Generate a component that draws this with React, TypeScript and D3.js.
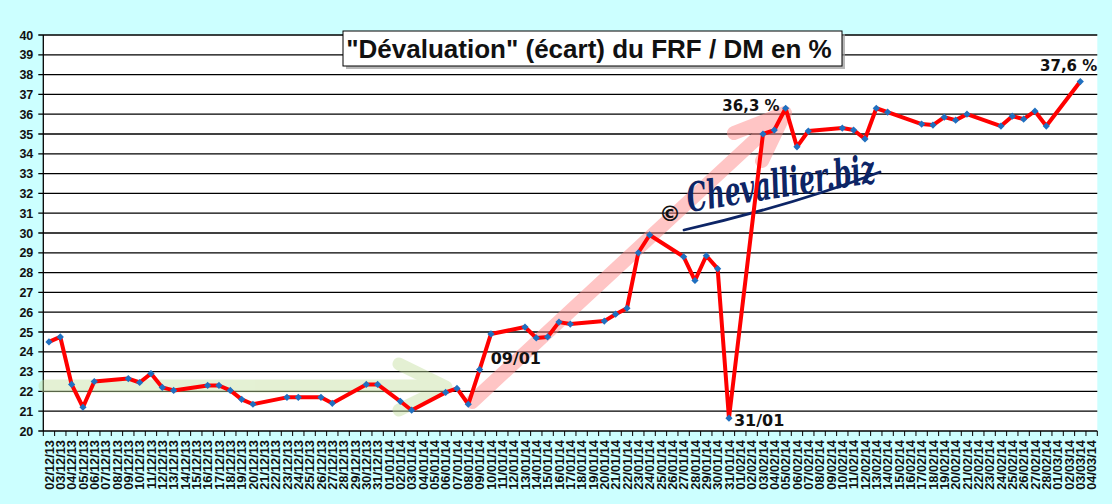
import { useEffect, useRef } from 'react';
import * as d3 from 'd3';

// daily categories from 02/12/13 to 04/03/14
const startDay = new Date(2013, 11, 2);
const endDay = new Date(2014, 2, 5);
const fmtDay = d3.timeFormat('%d/%m/%y');
const categories: string[] = d3.timeDay.range(startDay, endDay).map(d => fmtDay(d));

// écart FRF / DM en %, null = pas de cotation (week-end, jour férié)
const decValues: (number | null)[] = [
    24.5, 24.75, 22.35, 21.2, 22.5, null, null, 22.65, 22.45, 22.9,
    22.2, 22.05, null, null, 22.3, 22.3, 22.05, 21.6, 21.35, null,
    null, 21.7, 21.7, null, 21.7, 21.4, null, null, 22.35, 22.35,
];
const janValues: (number | null)[] = [
    null, 21.5, 21.05, null, null, 21.95, 22.15, 21.35, 23.1, 24.9,
    null, null, 25.25, 24.7, 24.75, 25.5, 25.4, null, null, 25.55,
    25.9, 26.2, 29.0, 29.9, null, null, 28.8, 27.6, 28.85, 28.2,
    20.65,
];
const febValues: (number | null)[] = [
    null, null, 35.0, 35.2, 36.3, 34.35, 35.15, null, null, 35.3,
    35.2, 34.75, 36.3, 36.1, null, null, 35.5, 35.45, 35.85, 35.7,
    36.0, null, null, 35.4, 35.9, 35.75, 36.15, 35.4,
];
const marValues: (number | null)[] = [null, null, 37.65, null];
const values = [...decValues, ...janValues, ...febValues, ...marValues];

const yTicks = d3.range(20, 41, 1);

const annotations = [
    { date: '09/01/14', text: '09/01', dx: 11, dy: -6, anchor: 'start' },
    { date: '31/01/14', text: '31/01', dx: 5, dy: 8, anchor: 'start' },
    { date: '05/02/14', text: '36,3 %', dx: -6, dy: 3, anchor: 'end' },
    { date: '03/03/14', text: '37,6 %', dx: 17, dy: -11, anchor: 'end' },
];

const title = '"Dévaluation" (écart) du FRF / DM en %';

export default function App() {
    const svgRef = useRef<SVGSVGElement>(null);
    const width = 1112;
    const height = 504;
    const left = 43.3, right = 1097.3, top = 35, bottom = 431;

    useEffect(() => {
        if (!svgRef.current) return;
        const svg = d3.select(svgRef.current);
        svg.selectAll('*').remove();

        const x = d3.scaleBand<string>().domain(categories).range([left, right]);
        const y = d3.scaleLinear().domain([20, 40]).range([bottom, top]);
        const cx = (d: string) => (x(d) as number) + x.bandwidth() / 2;

        svg.append('rect').attr('width', width).attr('height', height).attr('fill', '#ccffff');
        svg.append('rect')
            .attr('x', left).attr('y', top)
            .attr('width', right - left).attr('height', bottom - top)
            .attr('fill', '#ffffff');

        // grid
        svg.append('g').selectAll('line')
            .data(yTicks)
            .enter().append('line')
            .attr('x1', left - 5).attr('x2', right)
            .attr('y1', d => y(d)).attr('y2', d => y(d))
            .attr('stroke', '#000').attr('stroke-width', 1.3);

        svg.append('line')
            .attr('x1', left).attr('x2', left).attr('y1', top).attr('y2', bottom)
            .attr('stroke', '#000').attr('stroke-width', 1.3);

        svg.append('g').selectAll('text')
            .data(yTicks)
            .enter().append('text')
            .attr('x', left - 10).attr('y', d => y(d) + 4.5)
            .attr('text-anchor', 'end')
            .attr('font-family', '"Liberation Sans", Arial, sans-serif')
            .attr('font-weight', 'bold').attr('font-size', 12.5)
            .attr('fill', '#111')
            .text(d => d);

        // x ticks between bands
        const bounds = categories.map(c => x(c) as number).concat([right]);
        svg.append('g').selectAll('line')
            .data(bounds)
            .enter().append('line')
            .attr('x1', d => d).attr('x2', d => d)
            .attr('y1', bottom).attr('y2', bottom + 5)
            .attr('stroke', '#000').attr('stroke-width', 1);

        svg.append('g').selectAll('text')
            .data(categories)
            .enter().append('text')
            .attr('transform', d => `translate(${cx(d) + 4.6},${bottom + 9}) rotate(-90)`)
            .attr('text-anchor', 'end')
            .attr('font-family', '"Liberation Sans", Arial, sans-serif')
            .attr('font-weight', 'bold').attr('font-size', 12.8)
            .attr('fill', '#111')
            .text(d => d);

        // arrows (translucent)
        const green = svg.append('g')
            .attr('fill', 'none').attr('stroke', 'rgb(196,224,160)')
            .attr('stroke-width', 13).attr('stroke-linecap', 'round').attr('stroke-linejoin', 'round')
            .attr('opacity', 0.45);
        green.append('path').attr('d', 'M45,386 L436,386');
        green.append('path').attr('d', 'M399,364 L446,387 L399,410');

        const pink = svg.append('g')
            .attr('fill', 'none').attr('stroke', 'rgb(255,140,140)')
            .attr('stroke-width', 14).attr('stroke-linecap', 'round').attr('stroke-linejoin', 'round')
            .attr('opacity', 0.5);
        pink.append('path').attr('d', 'M472,402 L780,117');
        pink.append('path').attr('d', 'M734,133 L785,113 L762,161');

        // watermark
        const wm = svg.append('g').attr('transform', 'translate(689,212) rotate(-9)');
        wm.append('text')
            .attr('x', 0).attr('y', 0)
            .attr('font-family', '"DejaVu Serif", serif')
            .attr('font-style', 'italic').attr('font-weight', 'bold')
            .attr('font-size', 40)
            .attr('textLength', 190).attr('lengthAdjust', 'spacingAndGlyphs')
            .attr('fill', '#0d2566')
            .text('Chevallier.biz');
        svg.append('path')
            .attr('d', 'M684,230 Q790,206 880,172')
            .attr('fill', 'none').attr('stroke', '#0d2566').attr('stroke-width', 2.8)
            .attr('stroke-linecap', 'round');
        svg.append('text')
            .attr('x', 670).attr('y', 221)
            .attr('text-anchor', 'middle')
            .attr('font-family', '"DejaVu Sans", sans-serif')
            .attr('font-size', 22).attr('font-weight', 'bold')
            .attr('fill', '#111')
            .text('©');

        // series line, connecting over missing days
        const pts = categories
            .map((c, i) => ({ c, v: values[i] }))
            .filter(d => d.v !== null) as { c: string; v: number }[];

        const line = d3.line<{ c: string; v: number }>()
            .x(d => cx(d.c))
            .y(d => y(d.v));

        svg.append('path')
            .datum(pts)
            .attr('d', line)
            .attr('fill', 'none')
            .attr('stroke', '#ff0000')
            .attr('stroke-width', 4)
            .attr('stroke-linejoin', 'round');

        const diamond = d3.symbol().type(d3.symbolSquare).size(26);
        svg.append('g').selectAll('path')
            .data(pts)
            .enter().append('path')
            .attr('d', diamond)
            .attr('transform', d => `translate(${cx(d.c)},${y(d.v)}) rotate(45)`)
            .attr('fill', '#1f70c0');

        // annotations
        svg.append('g').selectAll('text')
            .data(annotations)
            .enter().append('text')
            .attr('x', d => cx(d.date) + d.dx)
            .attr('y', d => y(values[categories.indexOf(d.date)] as number) + d.dy)
            .attr('text-anchor', d => d.anchor)
            .attr('font-family', '"DejaVu Sans", sans-serif')
            .attr('font-weight', 'bold')
            .attr('font-size', d => (d.text.includes('%') ? 15 : 16))
            .attr('fill', '#111')
            .text(d => d.text);

        // title box
        svg.append('rect')
            .attr('x', 346).attr('y', 34).attr('width', 499).attr('height', 35)
            .attr('fill', '#9a9a9a').attr('opacity', 0.7);
        svg.append('rect')
            .attr('x', 343).attr('y', 31).attr('width', 499).attr('height', 35)
            .attr('fill', '#fff').attr('stroke', '#000').attr('stroke-width', 1);
        svg.append('text')
            .attr('x', 589).attr('y', 58)
            .attr('text-anchor', 'middle')
            .attr('font-family', '"Liberation Sans", Arial, sans-serif')
            .attr('font-weight', 'bold').attr('font-size', 26)
            .attr('fill', '#111')
            .text(title);
    }, []);

    return (
        <div style={{ position: 'absolute', left: 0, top: 0 }}>
            <svg ref={svgRef} width={width} height={height} style={{ display: 'block' }} />
        </div>
    );
}
